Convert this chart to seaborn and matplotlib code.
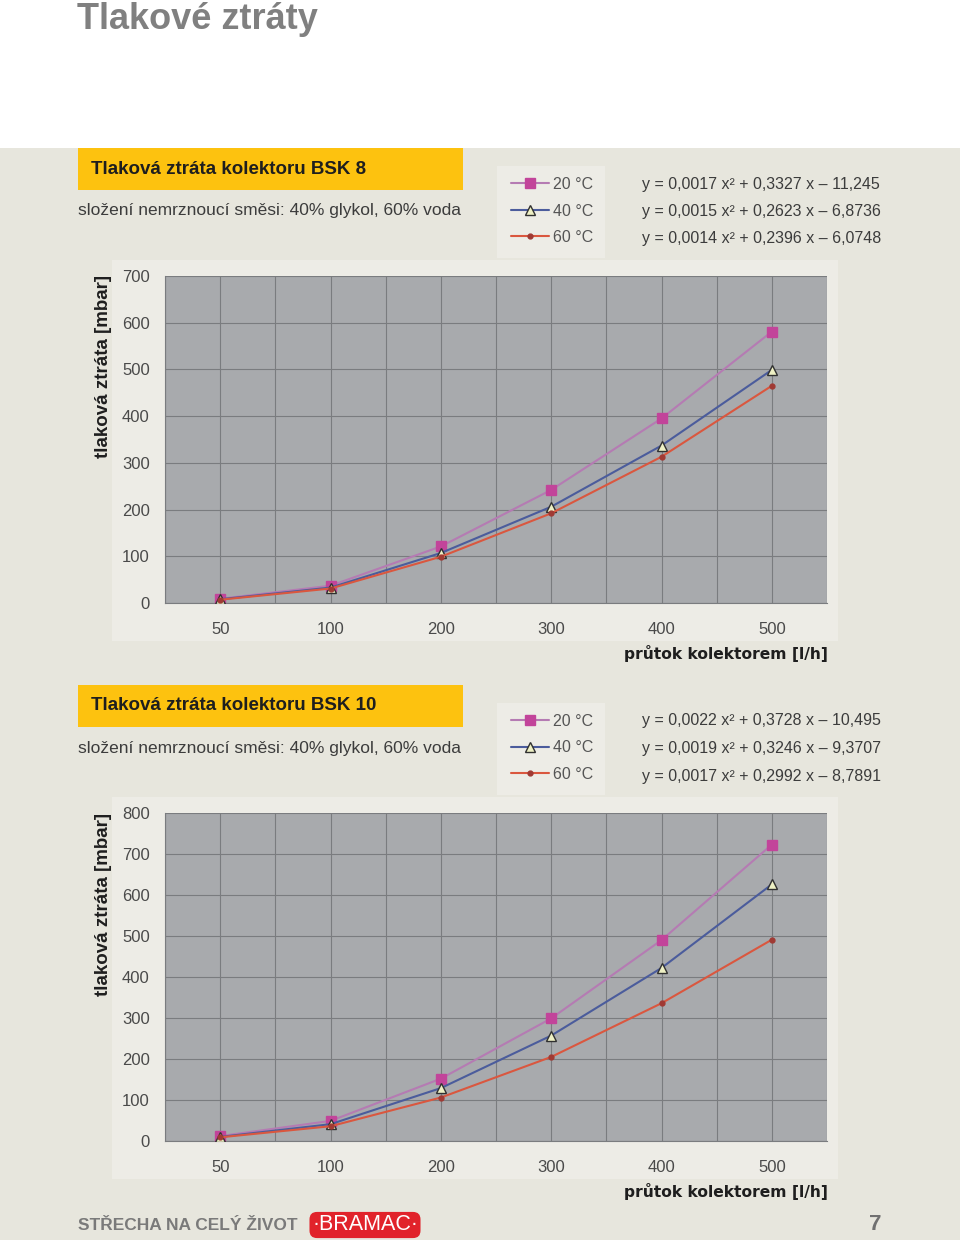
import matplotlib
matplotlib.use("Agg")
import matplotlib.pyplot as plt
from matplotlib.patches import Rectangle
import seaborn as sns

sns.set_style("white")
plt.rcParams["font.family"] = ["Liberation Sans", "DejaVu Sans"]

W, H = 960, 1240

# ── data ──────────────────────────────────────────────────────────────────
flows = [50, 100, 200, 300, 400, 500]
temps = ["20 °C", "40 °C", "60 °C"]

bsk8_20 = [9, 37, 121, 242, 395, 581]
bsk8_40 = [8, 33, 107, 206, 337, 499]
bsk8_60 = [7, 31, 99, 192, 313, 465]

bsk10_20 = [12, 49, 152, 299, 490, 723]
bsk10_40 = [10, 41, 129, 257, 422, 626]
bsk10_60 = [9, 36, 106, 205, 336, 491]

eq_bsk8 = ["y = 0,0017 x² + 0,3327 x – 11,245",
           "y = 0,0015 x² + 0,2623 x – 6,8736",
           "y = 0,0014 x² + 0,2396 x – 6,0748"]
eq_bsk10 = ["y = 0,0022 x² + 0,3728 x – 10,495",
            "y = 0,0019 x² + 0,3246 x – 9,3707",
            "y = 0,0017 x² + 0,2992 x – 8,7891"]

# line colour, marker, marker face, marker edge, marker size
styles = [
    ("#B57BB3", "s", "#C2449A", "#C2449A", 6.5),
    ("#4B5C9C", "^", "#EEF0C4", "#303030", 7),
    ("#DA573F", "o", "#A03A34", "#A03A34", 3.5),
]

PAGE = "#E7E6DD"
AREA = "#EDECE6"
PLOT = "#A8AAAD"
GRID = "#7A7C7F"
TXT = "#4A4A4A"


def fx(x):
    return x / W


def fy(y):
    return 1 - y / H


fig = plt.figure(figsize=(W / 100, H / 100), dpi=100)
fig.patch.set_facecolor("white")

# page background below the white header strip
fig.patches.append(Rectangle((0, 0), 1, fy(148), transform=fig.transFigure,
                             fc=PAGE, ec="none", zorder=0))

fig.text(fx(77), fy(29), "Tlakové ztráty", fontsize=26, fontweight="bold",
         color="#808080", va="baseline", ha="left")


def panel(top, title, series, eqs, ymax, ax_top, ax_bot):
    # yellow heading bar + subtitle
    fig.patches.append(Rectangle((fx(78), fy(top + 42)), fx(385), 42 / H,
                                 transform=fig.transFigure, fc="#FDC20F",
                                 ec="none", zorder=1))
    fig.text(fx(91), fy(top + 21), title, fontsize=13.5, fontweight="bold",
             color="#1E1E1E", va="center", ha="left", zorder=2)
    fig.text(fx(78), fy(top + 63), "složení nemrznoucí směsi: 40% glykol, 60% voda",
             fontsize=12.5, color="#3C3C3C", va="center", ha="left")

    # lighter boxes behind legend and chart
    fig.patches.append(Rectangle((fx(497), fy(top + 110)), fx(108), 92 / H,
                                 transform=fig.transFigure, fc=AREA,
                                 ec="none", zorder=1))
    fig.patches.append(Rectangle((fx(112), fy(ax_bot + 38)), fx(726),
                                 (ax_bot - ax_top + 54) / H,
                                 transform=fig.transFigure, fc=AREA,
                                 ec="none", zorder=1))

    for i, eq in enumerate(eqs):
        fig.text(fx(642), fy(top + 36 + 27.5 * i), eq, fontsize=11.5,
                 color="#3C3C3C", va="center", ha="left")

    ax = fig.add_axes([fx(165), fy(ax_bot), fx(662), (ax_bot - ax_top) / H])
    ax.set_facecolor(PLOT)
    ax.set_zorder(3)

    handles = []
    for vals, (lc, mk, mfc, mec, ms) in zip(series, styles):
        before = list(ax.lines)
        sns.pointplot(x=flows, y=vals, order=flows, color=lc, markers=mk,
                      linestyles="-", errorbar=None, ax=ax)
        for ln in ax.lines:
            if ln in before:
                continue
            ln.set_linewidth(1.5)
            ln.set_markersize(ms)
            ln.set_markerfacecolor(mfc)
            ln.set_markeredgecolor(mec)
            ln.set_markeredgewidth(1.0)
            ln.set_zorder(4)
            handles.append(ln)

    ax.set_xlim(-0.5, len(flows) - 0.5)
    ax.set_ylim(0, ymax)
    ax.set_yticks(range(0, ymax + 1, 100))
    ax.set_xticks(range(len(flows)))
    ax.set_xticklabels([str(f) for f in flows])
    ax.set_xticks([i - 0.5 for i in range(len(flows) + 1)], minor=True)
    ax.grid(True, which="both", axis="x", color=GRID, lw=0.8)
    ax.grid(True, which="major", axis="y", color=GRID, lw=0.8)
    ax.set_axisbelow(True)
    ax.set_xlabel("")
    ax.set_ylabel("")
    ax.tick_params(axis="x", which="major", length=0, pad=14,
                   labelsize=12, labelcolor=TXT)
    ax.tick_params(axis="x", which="minor", length=4, color=GRID,
                   direction="out")
    ax.tick_params(axis="y", length=4, color=GRID, direction="out", pad=7,
                   labelsize=12, labelcolor=TXT)
    for s in ax.spines.values():
        s.set_visible(False)
    ax.spines["left"].set_visible(True)
    ax.spines["left"].set_color(GRID)
    ax.spines["bottom"].set_visible(True)
    ax.spines["bottom"].set_color(GRID)

    ax.legend(handles, temps, loc="center left",
              bbox_to_anchor=(fx(503), fy(top + 63)),
              bbox_transform=fig.transFigure, frameon=False, numpoints=1,
              handlelength=2.4, handletextpad=0.2, labelspacing=0.72,
              fontsize=11.5, labelcolor="#555555", borderpad=0)

    fig.text(fx(103), fy(ax_top + 91), "tlaková ztráta [mbar]", rotation=90,
             fontsize=13.5, fontweight="bold", color="#1E1E1E",
             va="center", ha="center")
    fig.text(fx(828), fy(ax_bot + 51), "průtok kolektorem [l/h]",
             fontsize=11.2, fontweight="bold", color="#1E1E1E",
             family=["DejaVu Sans"], va="center", ha="right")
    return ax


panel(148, "Tlaková ztráta kolektoru BSK 8",
      [bsk8_20, bsk8_40, bsk8_60], eq_bsk8, 700, 276, 603)
panel(685, "Tlaková ztráta kolektoru BSK 10",
      [bsk10_20, bsk10_40, bsk10_60], eq_bsk10, 800, 813, 1141)

# ── footer ────────────────────────────────────────────────────────────────
fig.text(fx(78), fy(1225), "STŘECHA NA CELÝ ŽIVOT", fontsize=12.5,
         fontweight="bold", color="#7A7A7A", va="center", ha="left")
fig.text(fx(365), fy(1225), "·BRAMAC·", fontsize=15.5, color="white",
         va="center", ha="center",
         bbox=dict(boxstyle="round,pad=0.12,rounding_size=0.35",
                   fc="#E1232B", ec="none"))
fig.text(fx(875), fy(1224), "7", fontsize=16, fontweight="bold",
         color="#707070", va="center", ha="center")

fig.savefig("out.png", dpi=100, facecolor=fig.get_facecolor())
